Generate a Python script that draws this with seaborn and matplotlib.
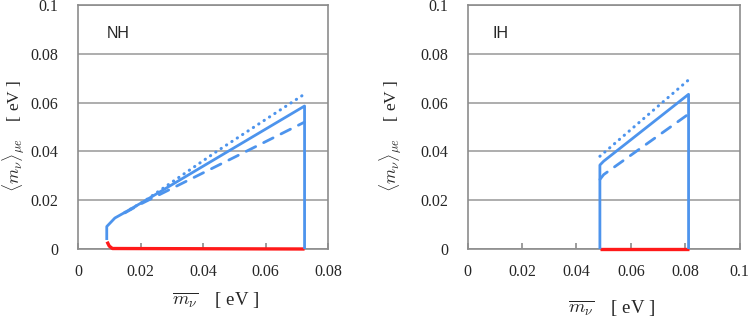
import matplotlib
matplotlib.use("Agg")
import matplotlib.pyplot as plt
import seaborn as sns
import pandas as pd

# ---------------- data ----------------
# NH panel
nh_solid_x = [0.0092, 0.0092, 0.0118, 0.0150, 0.0212, 0.0480, 0.0725, 0.0725]
nh_solid_y = [0.0037, 0.0092, 0.0127, 0.0150, 0.0196, 0.0400, 0.0586, 0.0]
nh_dot_x = [0.0150, 0.0212, 0.0444, 0.0725]
nh_dot_y = [0.0150, 0.0196, 0.0400, 0.0635]
nh_dash_x = [0.0150, 0.0200, 0.0538, 0.0725]
nh_dash_y = [0.0148, 0.0184, 0.0400, 0.0520]
nh_red_x = [0.0093, 0.0100, 0.0110, 0.0725]
nh_red_y = [0.0030, 0.0012, 0.0002, 0.0]

# IH panel
ih_solid_x = [0.0486, 0.0486, 0.0500, 0.0812, 0.0812]
ih_solid_y = [0.0, 0.0344, 0.0360, 0.0634, 0.0]
ih_dot_x = [0.0486, 0.0812]
ih_dot_y = [0.0380, 0.0693]
ih_dash_x = [0.0486, 0.0500, 0.0812]
ih_dash_y = [0.0285, 0.0305, 0.0553]
ih_red_x = [0.0486, 0.0812]
ih_red_y = [0.0, 0.0]

nh_xticks = [0, 0.02, 0.04, 0.06, 0.08]
nh_xticklabels = ["0", "0.02", "0.04", "0.06", "0.08"]
ih_xticks = [0, 0.02, 0.04, 0.06, 0.08, 0.1]
ih_xticklabels = ["0", "0.02", "0.04", "0.06", "0.08", "0.1"]
yticks = [0, 0.02, 0.04, 0.06, 0.08, 0.1]
yticklabels = ["0", "0.02", "0.04", "0.06", "0.08", "0.1"]

# ---------------- style ----------------
sns.set_theme(style="white")
plt.rcParams["font.family"] = ["Liberation Serif", "DejaVu Serif"]
plt.rcParams["mathtext.fontset"] = "cm"

BLUE = "#4d94ed"
RED = "#ff1a1a"
LW = 2.0

fig = plt.figure(figsize=(7.49, 3.17), dpi=100)
ax1 = fig.add_axes([78/749, 68/317, 250/749, 244/317])
ax2 = fig.add_axes([467.7/749, 68/317, 272/749, 244/317])


def draw(ax, x, y, color, ls, lw=LW):
    df = pd.DataFrame({"x": x, "y": y})
    sns.lineplot(data=df, x="x", y="y", ax=ax, color=color, lw=lw,
                 sort=False, estimator=None, linestyle=ls,
                 solid_capstyle="butt", dash_capstyle="round",
                 clip_on=False, zorder=4)


dotted = (0, (0.1, 2.0))
dashed = (0, (3.8, 3.2))

draw(ax1, nh_red_x, nh_red_y, RED, "-", 2.4)
draw(ax1, nh_dot_x, nh_dot_y, BLUE, dotted, 2.2)
draw(ax1, nh_dash_x, nh_dash_y, BLUE, dashed)
draw(ax1, nh_solid_x, nh_solid_y, BLUE, "-")

draw(ax2, ih_red_x, ih_red_y, RED, "-", 2.4)
draw(ax2, ih_dot_x, ih_dot_y, BLUE, dotted, 2.2)
draw(ax2, ih_dash_x, ih_dash_y, BLUE, dashed)
draw(ax2, ih_solid_x, ih_solid_y, BLUE, "-")

for ax, xt, xtl, xmax, tag, tx in [
        (ax1, nh_xticks, nh_xticklabels, 0.08, "NH", 0.116),
        (ax2, ih_xticks, ih_xticklabels, 0.1, "IH", 0.092)]:
    ax.set_xlim(0, xmax)
    ax.set_ylim(0, 0.1)
    ax.set_xticks(xt)
    ax.set_xticklabels(xtl, fontsize=11.5)
    ax.set_yticks(yticks)
    ax.set_yticklabels(yticklabels, fontsize=11.5)
    ax.yaxis.grid(True, color="#a0a0a0", lw=1.2)
    ax.xaxis.grid(False)
    ax.set_axisbelow(True)
    for s in ax.spines.values():
        s.set_color("#8c8c8c")
        s.set_linewidth(1.2)
        s.set_zorder(1.5)
    ax.tick_params(axis="x", direction="in", length=4, color="#909090",
                   pad=11, bottom=True)
    ax.tick_params(axis="y", length=0, pad=14)
    ax.text(tx, 0.885, tag, transform=ax.transAxes, fontsize=11.5,
            family="Liberation Sans", va="center", ha="left")
    ax.set_xlabel(r"$\overline{m_\nu}$    [ eV ]", fontsize=13.5)
    ax.set_ylabel(r"$\langle m_\nu\rangle_{\mu e}$    [ eV ]", fontsize=12.5)

ax1.xaxis.set_label_coords(0.55, -0.17)
ax2.xaxis.set_label_coords(0.53, -0.2)
ax1.yaxis.set_label_coords(-0.208, 0.465)
ax2.yaxis.set_label_coords(-0.239, 0.465)

fig.savefig("out.png", dpi=100)
